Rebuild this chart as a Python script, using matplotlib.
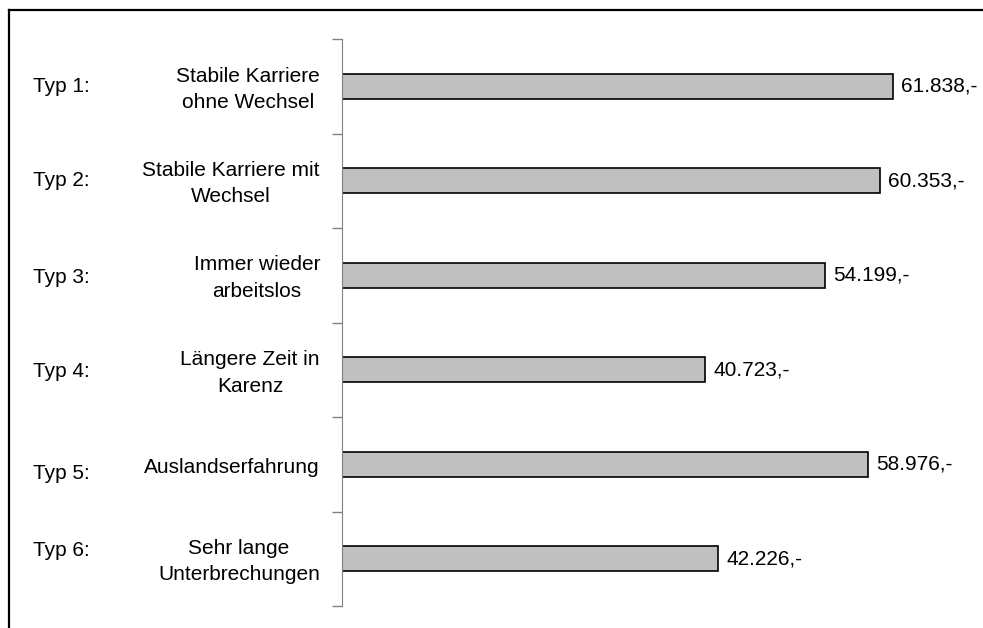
"""Horizontal bar chart: average income by career type (Typ 1-6)."""
import matplotlib

matplotlib.use("Agg")
import matplotlib.pyplot as plt
from matplotlib.lines import Line2D

plt.rcParams["font.family"] = ["Liberation Sans", "DejaVu Sans"]

TYPES = ["Typ 1:", "Typ 2:", "Typ 3:", "Typ 4:", "Typ 5:", "Typ 6:"]
CATEGORIES = [
    "Stabile Karriere\nohne Wechsel",
    "Stabile Karriere mit\nWechsel",
    "Immer wieder\narbeitslos",
    "Längere Zeit in\nKarenz",
    "Auslandserfahrung",
    "Sehr lange\nUnterbrechungen",
]
VALUES = [61838, 60353, 54199, 40723, 58976, 42226]
LABELS = ["61.838,-", "60.353,-", "54.199,-", "40.723,-", "58.976,-", "42.226,-"]

W, H = 983, 628
# the "Typ n:" boxes were placed by hand in the original, a few px off centre
TYP_NUDGE = [0, 0, -2, -2, -9, 8]

fig = plt.figure(figsize=(W / 100, H / 100), dpi=100)
ax = fig.add_axes([342 / W, 22 / H, 624 / W, 567 / H])

pos = list(range(len(VALUES)))
ax.barh(pos, VALUES, height=0.26, color="#c0c0c0", edgecolor="black", linewidth=1.2)
ax.set_ylim(len(VALUES) - 0.5, -0.5)
ax.set_xlim(0, 70000)

for y, v, lab in zip(pos, VALUES, LABELS):
    ax.text(v + 900, y, lab, va="center", ha="left", fontsize=15)

# category names: right-aligned block, centred lines
for y, cat, typ, dy in zip(pos, CATEGORIES, TYPES, TYP_NUDGE):
    ax.annotate(cat, xy=(0, y), xycoords=("axes fraction", "data"),
                xytext=(-22, -3), textcoords="offset pixels",
                ha="right", va="center", multialignment="center",
                linespacing=1.5, fontsize=15)
    ax.annotate(typ, xy=(33 / W, y), xycoords=("figure fraction", "data"),
                xytext=(0, dy), textcoords="offset pixels",
                ha="left", va="center", fontsize=15)

for side in ("top", "right", "bottom"):
    ax.spines[side].set_visible(False)
ax.spines["left"].set_color("#808080")
ax.set_xticks([])
ax.set_yticks([i - 0.5 for i in range(len(VALUES) + 1)])
ax.set_yticklabels([])
ax.tick_params(axis="y", length=7, color="#808080", width=1)

# outer frame, cut off at right and bottom
fx, fy = 8.5 / W, 1 - 9.5 / H
fig.add_artist(Line2D([fx, 1.0], [fy, fy], transform=fig.transFigure, color="black", lw=1.6))
fig.add_artist(Line2D([fx, fx], [0.0, fy], transform=fig.transFigure, color="black", lw=1.6))

fig.savefig("out.png", dpi=100)
